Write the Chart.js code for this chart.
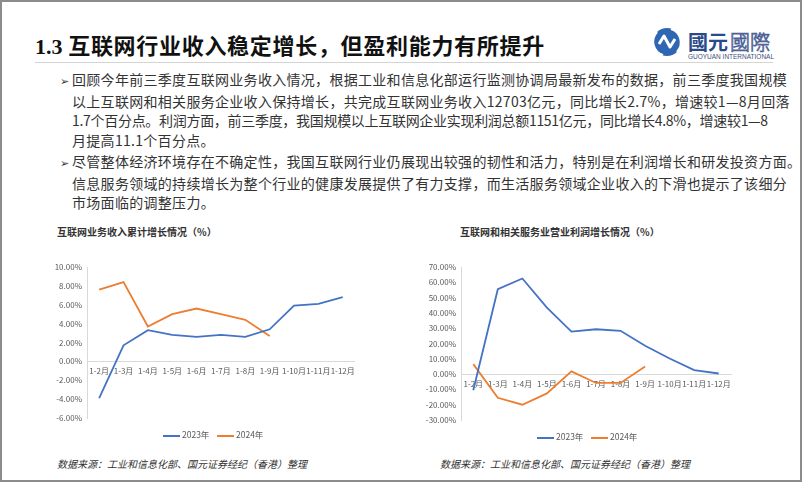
<!DOCTYPE html>
<html>
<head>
<meta charset="utf-8">
<script src="https://cdn.jsdelivr.net/npm/chart.js@4.4.0/dist/chart.umd.min.js"></script>
<style>
body { margin:0; width:802px; height:482px; overflow:hidden; background:#fff; position:relative;
       font-family:"Noto Sans CJK SC", sans-serif; color:#333; }
#frame { position:absolute; left:0; top:0; width:802px; height:482px; box-sizing:border-box; border:2px solid #8c8c8c; }
.abs { position:absolute; white-space:nowrap; }
#title { left:35px; top:31px; line-height:26px; font-size:22px; font-weight:700; color:#111; letter-spacing:0.7px; }
#title .num { font-family:"Liberation Serif", serif; letter-spacing:0; }
#rule { left:35px; top:62px; width:738px; height:1px; background:#d4d4d4; }
.para { left:60px; font-size:14px; line-height:19.7px; letter-spacing:0.3px; color:#333; }
.para .arr { font-family:"DejaVu Sans", sans-serif; font-size:11px; display:inline-block; width:12px; letter-spacing:0; }
.para .ind { padding-left:12px; }
.para .tight { letter-spacing:-0.3px; }
.ctitle { font-size:10px; font-weight:700; color:#333; line-height:14px; }
.src { font-size:10px; font-style:italic; color:#333; line-height:14px; }
.leg { font-size:8.5px; color:#595959; line-height:12px; }
.leg i { display:inline-block; width:17px; height:2px; vertical-align:middle; margin-right:2px; }
canvas { position:absolute; }
</style>
</head>
<body>
<div id="frame"></div>

<div id="title" class="abs"><span class="num">1.3</span> 互联网行业收入稳定增长，但盈利能力有所提升</div>
<div id="rule" class="abs"></div>

<svg class="abs" style="left:650px;top:24px" width="130" height="40" viewBox="0 0 130 40">
  <circle cx="17" cy="18" r="14" fill="#2f66b3"/>
  <path d="M7 8 A14 14 0 0 0 13 31" stroke="#fff" stroke-width="2.2" fill="none"/>
  <path d="M27 28 A14 14 0 0 0 21 5" stroke="#fff" stroke-width="2.2" fill="none"/>
  <path d="M9 20 L14 12 L20 23 L25 15" stroke="#fff" stroke-width="3" fill="none" stroke-linejoin="round"/>
  <text x="38" y="26" font-family="Noto Sans CJK SC" font-size="20" font-weight="700" fill="#2b4a8a">國元</text>
  <text x="80" y="26" font-family="Noto Sans CJK SC" font-size="20" font-weight="300" fill="#ffffff" stroke="#4d6296" stroke-width="0.8">國際</text>
  <text x="38" y="35" font-family="Liberation Sans Narrow, Liberation Sans" font-size="6.5" fill="#3c4f7e" textLength="86" lengthAdjust="spacingAndGlyphs">GUOYUAN INTERNATIONAL</text>
</svg>

<div class="abs para" style="top:70px">
  <div><span class="arr">➢</span>回顾今年前三季度互联网业务收入情况，根据工业和信息化部运行监测协调局最新发布的数据，前三季度我国规模</div>
  <div class="ind">以上互联网和相关服务企业收入保持增长，共完成互联网业务收入12703亿元，同比增长2.7%，增速较1—8月回落</div>
  <div class="ind tight">1.7个百分点。利润方面，前三季度，我国规模以上互联网企业实现利润总额1151亿元，同比增长4.8%，增速较1—8</div>
  <div class="ind">月提高11.1个百分点。</div>
</div>
<div class="abs para" style="top:152px">
  <div><span class="arr">➢</span>尽管整体经济环境存在不确定性，我国互联网行业仍展现出较强的韧性和活力，特别是在利润增长和研发投资方面。</div>
  <div class="ind">信息服务领域的持续增长为整个行业的健康发展提供了有力支撑，而生活服务领域企业收入的下滑也提示了该细分</div>
  <div class="ind">市场面临的调整压力。</div>
</div>

<div class="abs ctitle" style="left:57px;top:225px">互联网业务收入累计增长情况（%）</div>
<div class="abs ctitle" style="left:460px;top:225px">互联网和相关服务业营业利润增长情况（%）</div>

<canvas id="revChart" width="320" height="175" style="left:40px;top:255px"></canvas>
<canvas id="profitChart" width="330" height="175" style="left:410px;top:255px"></canvas>

<div class="abs leg" style="left:163px;top:428px"><i style="background:#4472c4"></i>2023年&nbsp;&nbsp;&nbsp;&nbsp;<i style="background:#ed7d31"></i>2024年</div>
<div class="abs leg" style="left:537px;top:430px"><i style="background:#4472c4"></i>2023年&nbsp;&nbsp;&nbsp;&nbsp;<i style="background:#ed7d31"></i>2024年</div>

<div class="abs src" style="left:57px;top:457px">数据来源：工业和信息化部、国元证券经纪（香港）整理</div>
<div class="abs src" style="left:440px;top:457px">数据来源：工业和信息化部、国元证券经纪（香港）整理</div>

<script>
var months = ['1-2月', '1-3月', '1-4月', '1-5月', '1-6月', '1-7月', '1-8月', '1-9月', '1-10月', '1-11月', '1-12月'];

// 互联网业务收入累计增长 (%)
var revenue2023 = [-3.9, 1.7, 3.3, 2.8, 2.6, 2.8, 2.6, 3.4, 5.9, 6.1, 6.8];
var revenue2024 = [7.6, 8.4, 3.7, 5.0, 5.6, 5.0, 4.4, 2.7];
var revenueTicks = { min: -6, max: 10, step: 2 };

// 营业利润增长 (%)
var profit2023 = [-10.5, 55.5, 62.5, 43.5, 27.8, 29.3, 28.3, 18.5, 10.2, 2.6, 0.4];
var profit2024 = [6.5, -15.5, -20, -12.6, 1.8, -5.8, -5.8, 4.9];
var profitTicks = { min: -30, max: 70, step: 10 };

var BLUE = '#4472c4';
var ORANGE = '#ed7d31';
var AXIS = '#d9d9d9';
var TICK = '#595959';

function makeChart(id, a, b, range, yWidth, pad) {
    var ctx = document.getElementById(id).getContext('2d');
    return new Chart(ctx, {
        type: 'line',
        data: {
            labels: months,
            datasets: [
                { label: '2023年', data: a, borderColor: BLUE, backgroundColor: BLUE, borderWidth: 1.8, pointRadius: 0, tension: 0 },
                { label: '2024年', data: b, borderColor: ORANGE, backgroundColor: ORANGE, borderWidth: 1.8, pointRadius: 0, tension: 0 }
            ]
        },
        options: {
            responsive: false,
            animation: false,
            layout: { padding: pad },
            plugins: { legend: { display: false }, tooltip: { enabled: false } },
            scales: {
                x: {
                    offset: true,
                    position: { y: 0 },
                    grid: { display: false, drawTicks: false },
                    border: { color: AXIS, width: 1 },
                    ticks: { autoSkip: false, maxRotation: 0, padding: 5, color: TICK, font: { family: 'Noto Sans CJK SC', size: 8 } }
                },
                y: {
                    min: range.min,
                    max: range.max,
                    grid: { display: false, drawTicks: false },
                    border: { color: AXIS, width: 1 },
                    ticks: {
                        stepSize: range.step, padding: 5, color: TICK,
                        font: { family: 'Noto Sans CJK SC', size: 8 },
                        callback: function(v) { return v.toFixed(2) + '%'; }
                    },
                    afterFit: function(s) { s.width = yWidth; }
                }
            }
        }
    });
}

makeChart('revChart', revenue2023, revenue2024, revenueTicks, 47, { top: 12, bottom: 12, left: 0, right: 5 });
makeChart('profitChart', profit2023, profit2024, profitTicks, 51, { top: 12, bottom: 10, left: 0, right: 9 });
</script>
</body>
</html>
